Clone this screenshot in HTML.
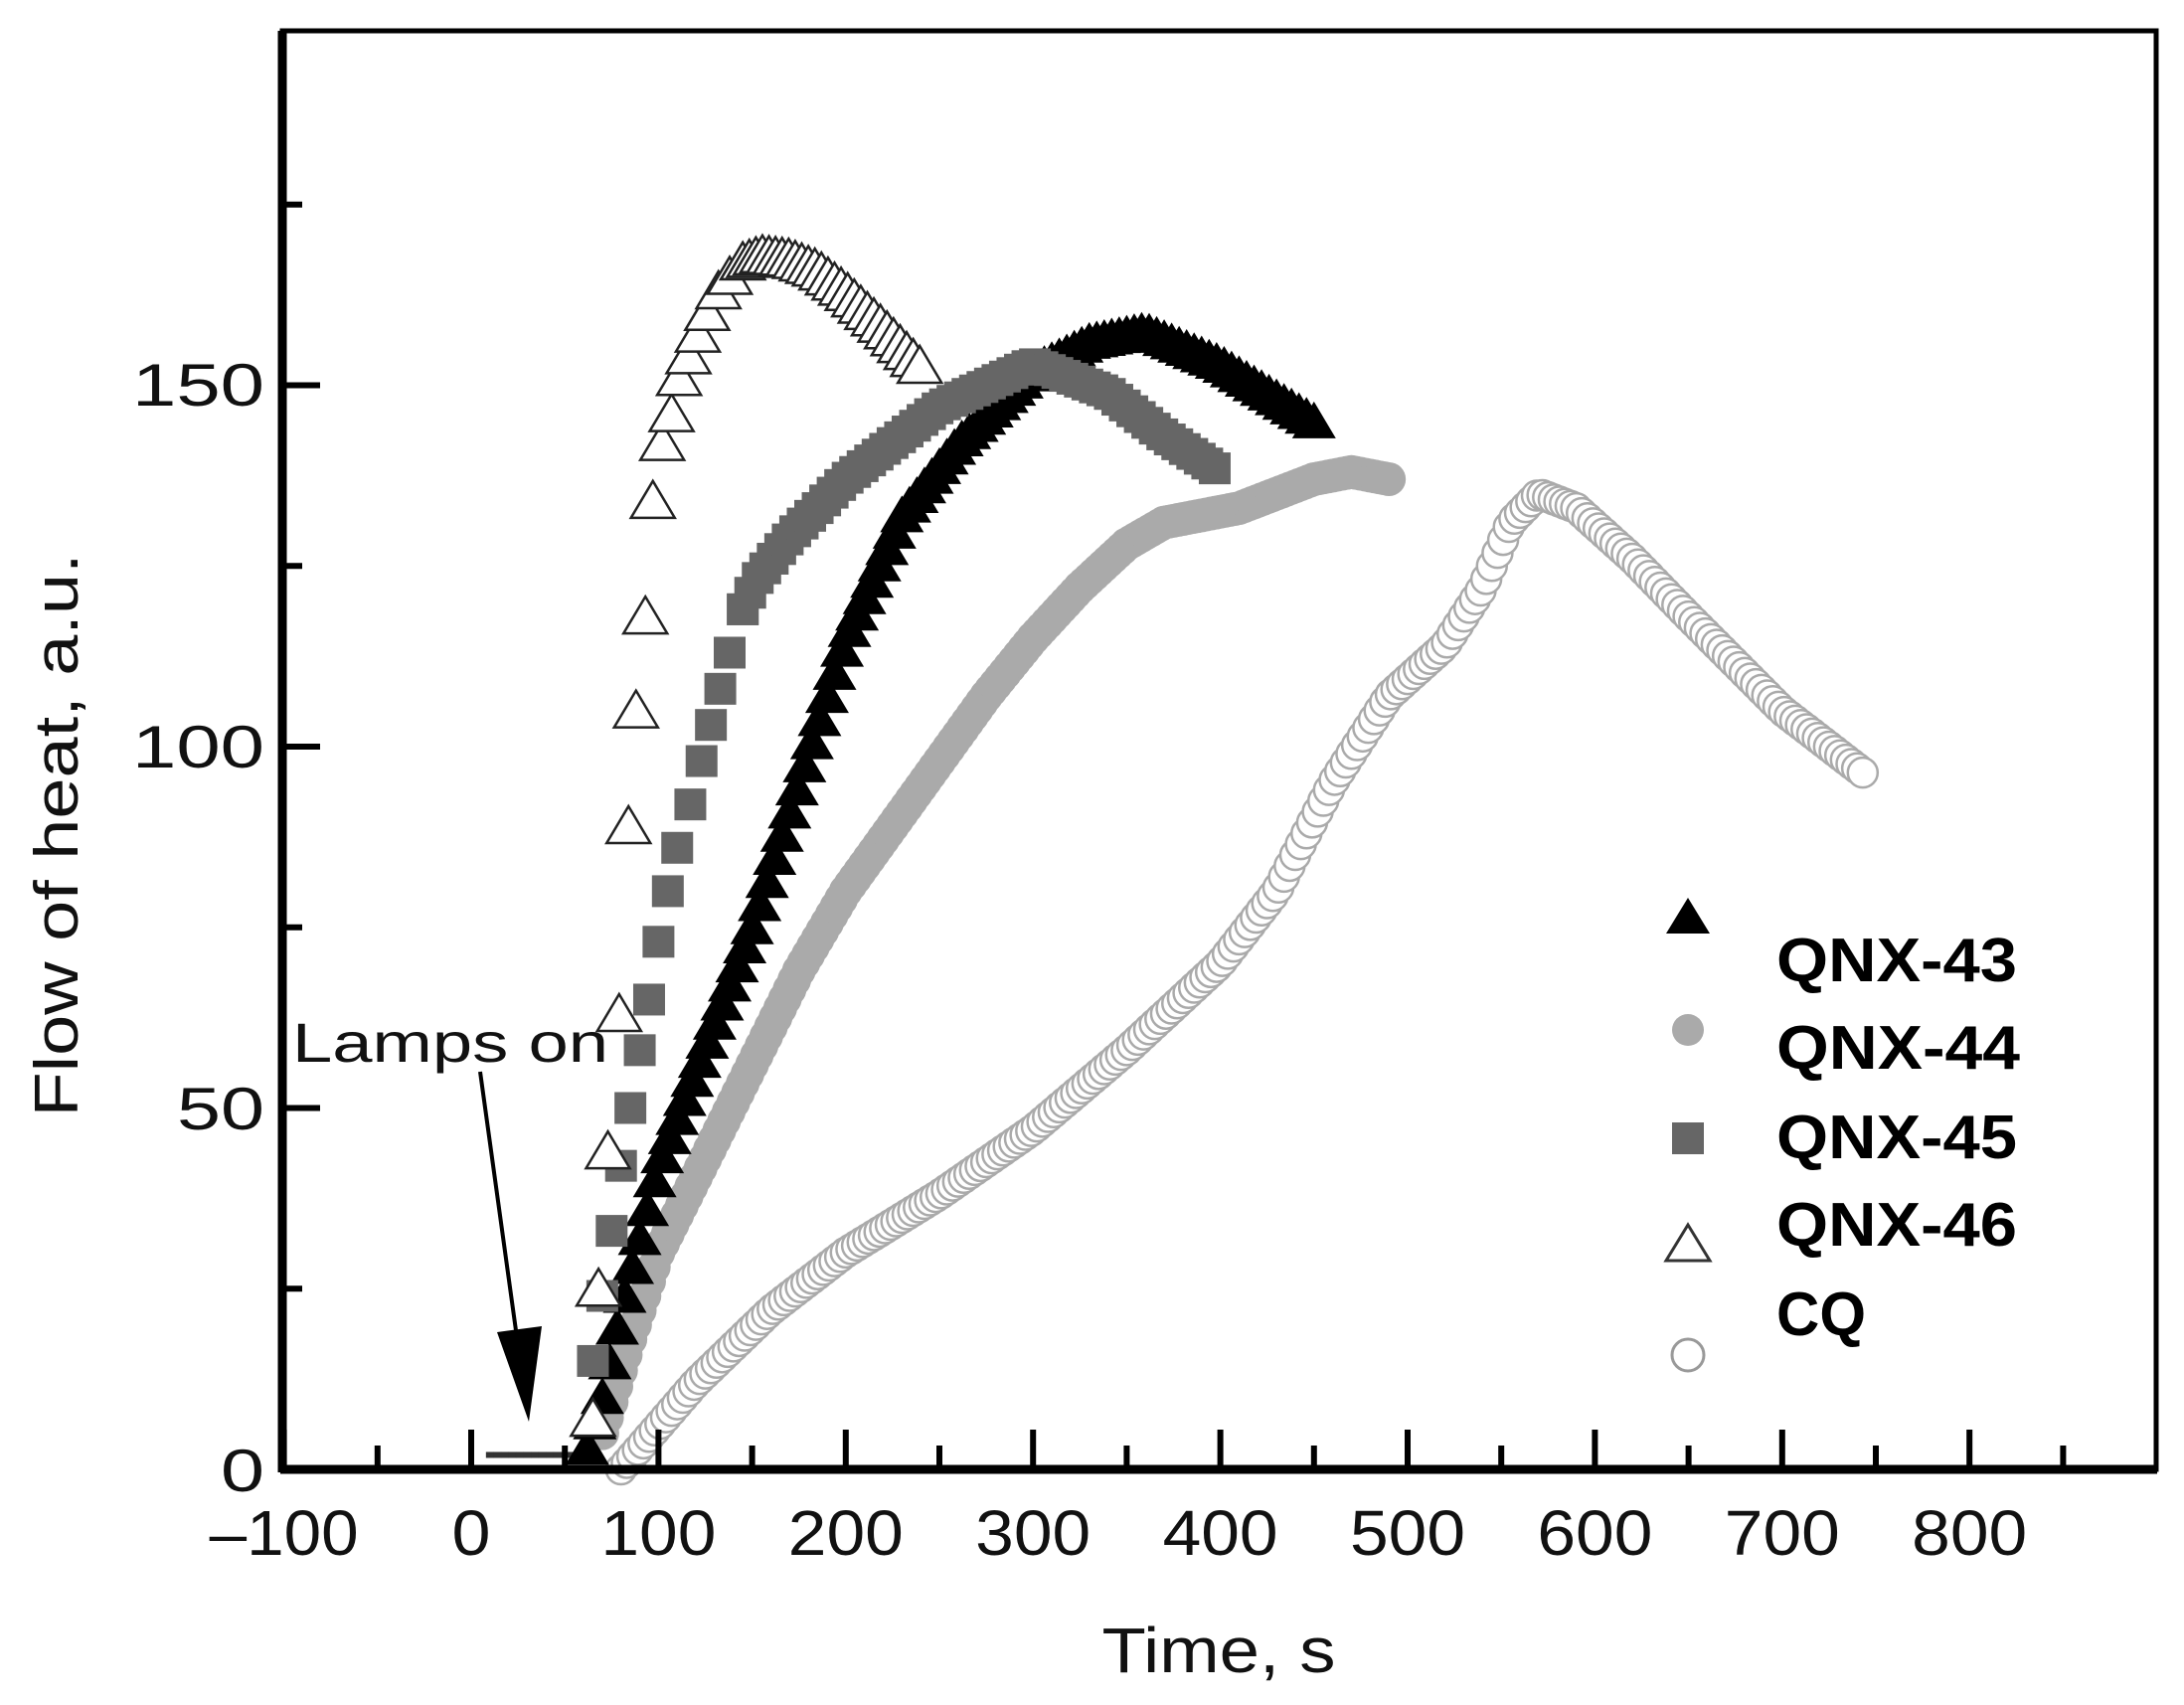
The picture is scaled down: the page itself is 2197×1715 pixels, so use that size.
<!DOCTYPE html>
<html><head><meta charset="utf-8"><style>
html,body{margin:0;padding:0;background:#fff}
svg{display:block}
</style></head><body>
<svg id="s" width="2197" height="1715" xmlns="http://www.w3.org/2000/svg">
<rect width="2197" height="1715" fill="#fff"/>
<g id="data"></g>
<rect x="284" y="31" width="1885" height="1447" fill="none" stroke="#000" stroke-width="5"/>
<line x1="284" y1="31" x2="284" y2="1481" stroke="#000" stroke-width="9"/>
<line x1="282" y1="1478" x2="2170" y2="1478" stroke="#000" stroke-width="9"/>
<g id="ticks" stroke="#000" stroke-width="6"></g>
<g font-family="Liberation Sans, sans-serif" font-size="60" fill="#111" text-anchor="end">
<text x="266" y="408" textLength="133" lengthAdjust="spacingAndGlyphs">150</text>
<text x="266" y="772" textLength="133" lengthAdjust="spacingAndGlyphs">100</text>
<text x="266" y="1136" textLength="88" lengthAdjust="spacingAndGlyphs">50</text>
<text x="266" y="1500" textLength="44" lengthAdjust="spacingAndGlyphs">0</text>
</g>
<g id="xl" font-family="Liberation Sans, sans-serif" font-size="64" fill="#111" text-anchor="middle"></g>
<text x="1226" y="1682" font-family="Liberation Sans, sans-serif" font-size="64" fill="#111" text-anchor="middle" textLength="235" lengthAdjust="spacingAndGlyphs">Time, s</text>
<text transform="translate(78 840) rotate(-90)" font-family="Liberation Sans, sans-serif" font-size="62" fill="#111" text-anchor="middle" textLength="567" lengthAdjust="spacingAndGlyphs">Flow of heat, a.u.</text>
<text x="294" y="1068" font-family="Liberation Sans, sans-serif" font-size="56" fill="#111" textLength="318" lengthAdjust="spacingAndGlyphs">Lamps on</text>
<line x1="483" y1="1078" x2="522" y2="1360" stroke="#000" stroke-width="4"/>
<polygon points="500,1340 545,1334 532,1430" fill="#000"/>
<polygon points="1698,903 1720,939 1676,939" fill="#000"/>
<circle cx="1698" cy="1036" r="16" fill="#aaa"/>
<rect x="1682" y="1129" width="32" height="32" fill="#666"/>
<polygon points="1698,1232 1720,1268 1676,1268" fill="none" stroke="#333" stroke-width="3"/>
<circle cx="1698" cy="1363" r="16" fill="none" stroke="#999" stroke-width="3"/>
<g font-family="Liberation Sans, sans-serif" font-weight="bold" font-size="62" fill="#000">
<text x="1787" y="987" textLength="242" lengthAdjust="spacingAndGlyphs">QNX-43</text>
<text x="1787" y="1075" textLength="245" lengthAdjust="spacingAndGlyphs">QNX-44</text>
<text x="1787" y="1165" textLength="242" lengthAdjust="spacingAndGlyphs">QNX-45</text>
<text x="1787" y="1253" textLength="242" lengthAdjust="spacingAndGlyphs">QNX-46</text>
<text x="1787" y="1343" textLength="90" lengthAdjust="spacingAndGlyphs">CQ</text>
</g>
</svg>
<script>
var NS="http://www.w3.org/2000/svg";
function X(t){return 474+t*1.884}
function Y(v){return 1478-v*7.27}
function el(tag,a,p){var e=document.createElementNS(NS,tag);for(var k in a)e.setAttribute(k,a[k]);p.appendChild(e);return e}
var tk=document.getElementById('ticks'),xl=document.getElementById('xl');
for(var t=-100;t<=850;t+=50){var maj=(t%100===0);el('line',{x1:X(t),y1:1476,x2:X(t),y2:1476-(maj?38:22)},tk);}
for(var t=-100;t<=800;t+=100){var s=el('text',{x:X(t),y:1564,textLength:(t<0?150:(t==0?39:116)),lengthAdjust:'spacingAndGlyphs'},xl);s.textContent=(t<0?'\u2013100':String(t));}
for(var v=0;v<=175;v+=25){var maj=(v%50===0);el('line',{x1:282,y1:Y(v),x2:282+(maj?40:22),y2:Y(v)},tk);}
function interp(pts,t){for(var i=0;i<pts.length-1;i++){if(t>=pts[i][0]&&t<=pts[i+1][0]){var f=(t-pts[i][0])/(pts[i+1][0]-pts[i][0]);return pts[i][1]+f*(pts[i+1][1]-pts[i][1]);}}return null}
var g=document.getElementById('data');
function series(pts,step,draw){for(var t=pts[0][0];t<=pts[pts.length-1][0]+0.01;t+=step){var v=interp(pts,t);if(v!==null)draw(X(t),Y(v));}}
function tri(x,y,fill,stroke,sw){el('polygon',{points:(x)+','+(y-20)+' '+(x+22)+','+(y+17)+' '+(x-22)+','+(y+17),fill:fill,stroke:stroke,'stroke-width':sw},g);}
for(var t=10;t<=60;t+=4){el('rect',{x:X(t)-4,y:Y(2)-3,width:8,height:6,fill:'#333'},g);}
series([[80,0],[100,6],[120,12],[160,22],[200,30],[250,38],[300,47],[350,58],[400,70],[430,80],[460,95],[490,107],[520,114],[540,122],[555,131],[570,135],[590,133],[620,126],[650,118],[700,105],[745,96]],3,function(x,y){el('circle',{cx:x,cy:y,r:15,fill:'#fff',stroke:'#aaa','stroke-width':2.5},g)});
series([[70,5],[85,18],[100,30],[125,43],[150,56],[175,69],[200,80],[225,89],[250,98],[275,107],[300,115],[325,122],[350,128],[370,131],[390,132],[410,133],[430,135],[450,137],[470,138],[490,137]],2.5,function(x,y){el('circle',{cx:x,cy:y,r:17,fill:'#aaa'},g)});
series([[62,3],[70,10],[80,22],[100,42],[150,75],[200,115],[230,132],[260,142],[300,152],[330,156],[360,157.5],[400,153],[450,145]],4,function(x,y){tri(x,y,'#000','none',0)});
var sq=[[65,15],[70,24],[75,33],[80,42],[85,50],[90,58],[95,65],[100,73],[105,80],[110,86],[117,92],[123,98],[128,103],[133,108],[138,113],[145,119]];
for(var i=0;i<sq.length;i++){el('rect',{x:X(sq[i][0])-16,y:Y(sq[i][1])-16,width:32,height:32,fill:'#666'},g);}
series([[145,119],[152,123],[170,129],[200,137],[250,147],[300,153],[340,149],[370,143],[400,138]],4,function(x,y){el('rect',{x:x-16,y:y-16,width:32,height:32,fill:'#666'},g)});
var tr=[[65,7],[68,25],[73,44],[79,63],[84,89],[88,105],[93,118],[97,134],[102,142],[107,146],[111,151],[116,154],[121,157],[126,160],[132,163],[138,165],[145,167]];
for(var i=0;i<tr.length;i++)tri(X(tr[i][0]),Y(tr[i][1]),'#fff','#222',2.5);
series([[145,167],[155,168],[170,167.5],[185,166],[200,163],[220,158],[242,152]],3.5,function(x,y){tri(x,y,'#fff','#222',2.5)});
</script>
</body></html>
